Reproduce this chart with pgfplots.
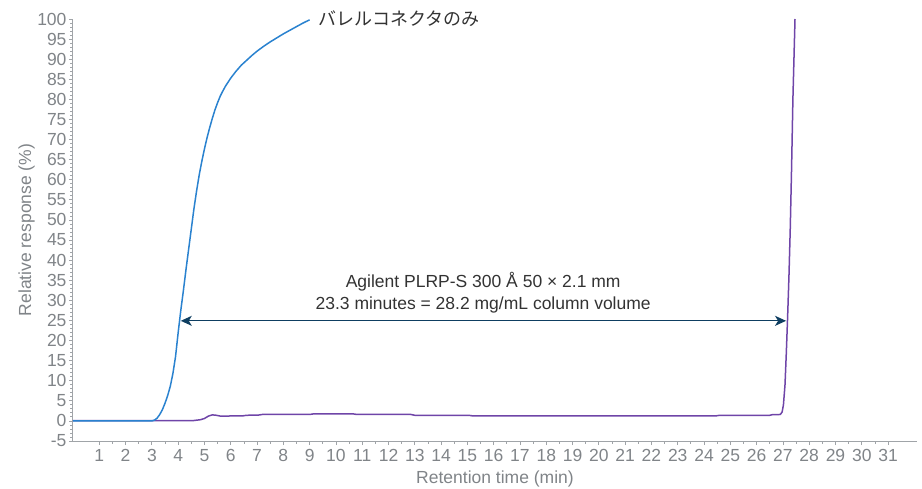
\documentclass[border=0pt]{standalone}
\usepackage{pgfplots}
\pgfplotsset{compat=1.18}
\usepackage{fontspec}
\setmainfont{Liberation Sans}
\newfontfamily\cjk{Noto Sans CJK JP}
\usetikzlibrary{arrows.meta}
\definecolor{cblue}{HTML}{2A82CF}
\definecolor{cpurple}{HTML}{6F45A8}
\definecolor{carrow}{HTML}{0E3E61}
\definecolor{ctick}{HTML}{808488}
\definecolor{caxis}{HTML}{A0A4A8}
\definecolor{ctext}{HTML}{333333}
\begin{document}
\begin{tikzpicture}
\useasboundingbox (-73pt,-47pt) rectangle (849pt,441pt);
\begin{axis}[
  scale only axis,
  width=844pt, height=422pt,
  xmin=0, xmax=32.1, ymin=-5, ymax=100,
  axis x line*=bottom, axis y line*=left,
  axis line style={caxis, line width=1pt, -},
  xtick={1,2,...,31}, ytick={-5,0,...,100},
  minor x tick num=1, minor y tick num=4,
  tick style={caxis, line width=0.8pt},
  major tick length=4pt, minor tick length=2.5pt,
  tick align=outside,
  /pgf/number format/assume math mode=true,
  ticklabel style={font=\fontsize{17.5}{20}\selectfont, text=ctick},
  xticklabel style={yshift=-1pt},
  yticklabel style={xshift=1pt},
  xlabel={Retention time (min)},
  ylabel={Relative response (\%)},
  label style={font=\fontsize{17.5}{20}\selectfont, text=ctick},
  xlabel style={at={(axis description cs:0.5,-0.09)}, anchor=center},
  ylabel style={at={(axis description cs:-0.055,0.5)}, anchor=center, rotate=0},
  clip=false,
]
\addplot[cpurple, line width=1.5pt] coordinates {
(0,0.1)(4.6,0.1)(4.85,0.3)(5.0,0.6)(5.15,1.2)(5.3,1.5)(5.45,1.4)(5.6,1.2)(6.45,1.25)(6.6,1.4)(7.05,1.45)(7.2,1.6)(9.0,1.6)(9.15,1.75)(10.65,1.75)(10.8,1.6)(12.85,1.6)(13.0,1.4)(15.05,1.4)(15.2,1.25)(24.45,1.25)(24.6,1.4)(26.5,1.4)(26.6,1.55)(26.9,1.6)(26.97,2.2)(27.02,4)(27.08,9)(27.13,17)(27.18,26)(27.23,36)(27.28,48)(27.33,63)(27.38,80)(27.46,100)
};
\addplot[cblue, line width=1.5pt] coordinates {
(0,0)(3.0,0)(3.1,0.2)(3.2,0.7)(3.3,1.6)(3.4,2.8)(3.5,4.4)(3.6,6.3)(3.7,8.6)(3.8,11.8)(3.9,16)(4.0,22)(4.1,27.5)(4.2,32.5)(4.3,37.8)(4.4,42.8)(4.5,47.8)(4.6,52.8)(4.7,57.2)(4.8,61.2)(4.9,64.6)(5.0,67.7)(5.1,70.5)(5.2,73)(5.3,75.3)(5.4,77.4)(5.5,79.2)(5.6,80.8)(5.7,82.1)(5.8,83.3)(6.0,85.3)(6.2,87)(6.4,88.5)(6.6,89.7)(6.8,90.9)(7.0,92)(7.25,93.2)(7.5,94.3)(7.75,95.3)(8.0,96.3)(8.25,97.2)(8.5,98.1)(8.75,99.0)(9.0,99.8)
};
\draw[carrow, line width=1.3pt, {Stealth[length=11pt,width=10pt,inset=3pt]}-{Stealth[length=11pt,width=10pt,inset=3pt]}] (axis cs:4.1,24.9) -- (axis cs:27.12,24.9);
\node[align=center, text=ctext, font=\fontsize{17.5}{22}\selectfont] at (axis cs:15.6,31.9) {Agilent PLRP-S 300 Å 50 × 2.1 mm\\23.3 minutes = 28.2 mg/mL column volume};
\node[anchor=west, inner sep=0pt, text=ctext, font=\fontsize{18}{20}\selectfont\cjk] at (axis cs:9.34,100.2) {バレルコネクタのみ};
\end{axis}
\end{tikzpicture}
\end{document}
